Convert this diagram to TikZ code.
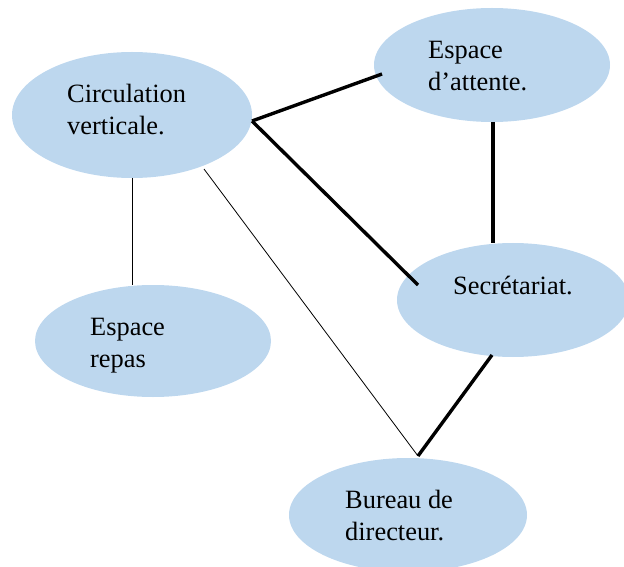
\documentclass[tikz,border=0pt]{standalone}
\usepackage{fontspec}
\setmainfont{Liberation Serif}
\usetikzlibrary{shapes.geometric}
\definecolor{bubble}{RGB}{189,215,238}
\begin{document}
\begin{tikzpicture}[x=1pt,y=1pt,
  bub/.style={ellipse,fill=bubble,draw=none,inner sep=0pt},
  lbl/.style={anchor=base west,align=left,inner sep=0pt,font=\fontsize{26.4}{32}\selectfont},
  thick link/.style={line width=3.4pt},
  thin link/.style={line width=0.8pt}]
\useasboundingbox (0,0) rectangle (624,566);
\node[bub,minimum width=240,minimum height=126] (circ) at (132,451) {};
\node[bub,minimum width=236,minimum height=114] (att) at (492,501) {};
\node[bub,minimum width=232,minimum height=114] (secr) at (513,266) {};
\node[bub,minimum width=236,minimum height=112] (repas) at (153,225) {};
\node[bub,minimum width=238,minimum height=114] (bur) at (408,51) {};
\node[lbl] (tcirc) at (67,431) {Circulation\\verticale.};
\node[lbl] (tatt) at (428,475) {Espace\\d’attente.};
\node[lbl] (tsecr) at (453,272) {Secrétariat.};
\node[lbl] (tbur) at (345,26) {Bureau de\\directeur.};
\node[lbl] (trepas) at (90,199) {Espace\\repas};
\draw[thick link] ([shift={(120,-6)}]circ.center) -- ([shift={(-110,-9)}]att.center);
\draw[thick link] ([shift={(120,-6)}]circ.center) -- ([shift={(-95,15)}]secr.center);
\draw[thick link] ([shift={(1,-57)}]att.center) -- ([shift={(-20,57)}]secr.center);
\draw[thick link] ([shift={(-21,-55)}]secr.center) -- ([shift={(10,59)}]bur.center);
\draw[thin link] ([shift={(0,-63)}]circ.center) -- ([shift={(-21,56)}]repas.center);
\draw[thin link] ([shift={(72,-54)}]circ.center) -- ([shift={(10,59)}]bur.center);
\end{tikzpicture}
\end{document}
